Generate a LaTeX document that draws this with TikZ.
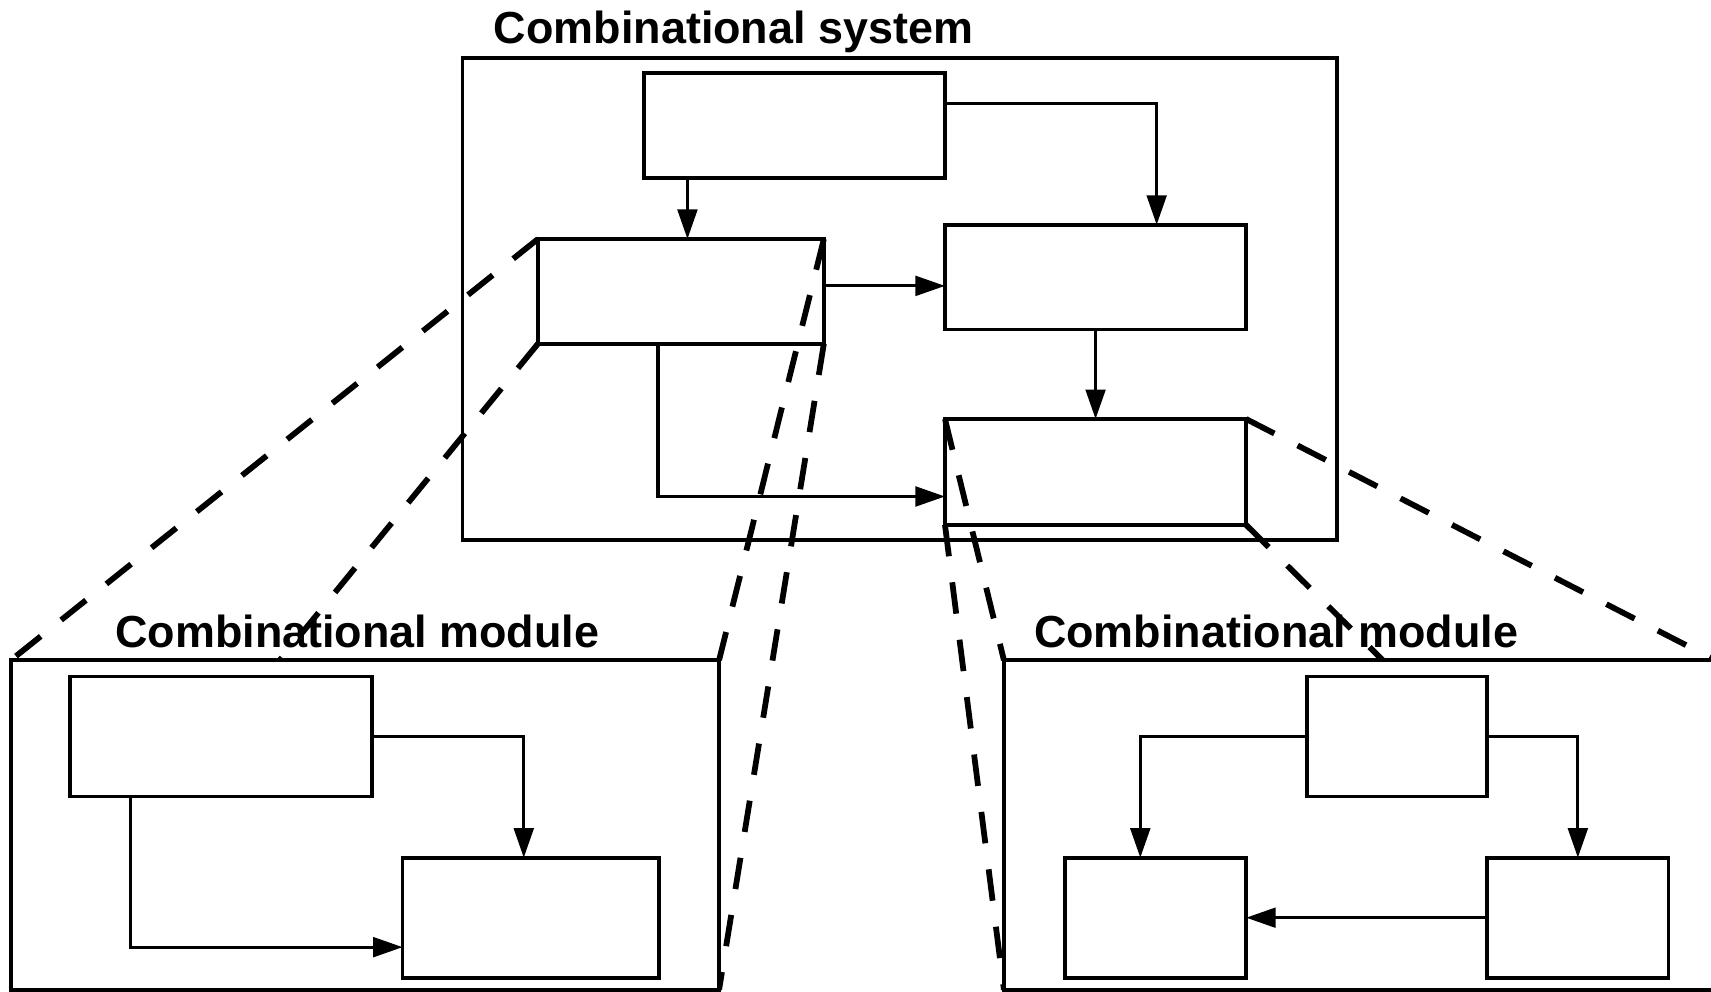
\documentclass[tikz,border=0pt]{standalone}
\usepackage{fontspec}
\setmainfont{Liberation Sans}
\usetikzlibrary{arrows.meta,fit,backgrounds}
\begin{document}
\begin{tikzpicture}[x=0.01cm,y=-0.01cm,
  box/.style={draw, line width=0.95pt, inner sep=0pt, outer sep=0pt},
  modbox/.style={draw, fill=white, line width=0.95pt, inner sep=0pt, outer sep=0pt},
  conn/.style={line width=0.8pt, -{Triangle[length=0.27cm,width=0.18cm]}},
  zoomline/.style={line width=1.5pt, dash pattern=on 0.29cm off 0.24cm},
  ttl/.style={font=\fontsize{11.7pt}{14pt}\selectfont\bfseries, inner sep=0pt, anchor=base west}]
\useasboundingbox (0,0) rectangle (1568,909);
\clip (0,0) rectangle (1568,909);

% ---- combinational system ----
\node[ttl] (tsys) at (452,40) {Combinational system};
\node[box, fit={(424,53) (1225,495)}] (S) {};
\node[box, fit={(590,67) (866,163)}] (A) {};
\node[box, fit={(493,219) (755,315)}] (B) {};
\node[box, fit={(866,206) (1142,302)}] (C) {};
\node[box, fit={(866,384) (1142,481)}] (D) {};

\coordinate (xab) at (630,0);
\coordinate (xac) at (1060,0);
\coordinate (yac) at (0,95);
\coordinate (ybc) at (0,262);
\coordinate (xcd) at (1004,0);
\coordinate (xbd) at (603,0);
\coordinate (ybd) at (0,455);

\draw[conn] (A.south -| xab) -- (B.north -| xab);
\draw[conn] (A.east |- yac) -- (xac |- yac) -- (xac |- C.north);
\draw[conn] (B.east |- ybc) -- (C.west |- ybc);
\draw[conn] (C.south -| xcd) -- (D.north -| xcd);
\draw[conn] (B.south -| xbd) -- (xbd |- ybd) -- (D.west |- ybd);

% ---- left module ----
\node[modbox, fit={(10,605) (659,907)}] (LM) {};
\node[ttl] (tlm) at (105,593) {Combinational module};
\node[box, fit={(64,620) (341,730)}] (LA) {};
\node[box, fit={(369,786) (604,896)}] (LB) {};
\coordinate (ylab) at (0,675);
\coordinate (xlab) at (480,0);
\coordinate (xlab2) at (120,0);
\coordinate (ylab2) at (0,868);
\draw[conn] (LA.east |- ylab) -- (xlab |- ylab) -- (xlab |- LB.north);
\draw[conn] (LA.south -| xlab2) -- (xlab2 |- ylab2) -- (LB.west |- ylab2);

% ---- right module ----
\node[modbox, fit={(920,605) (1572,907)}] (RM) {};
\node[ttl] (trm) at (947,593) {Combinational module};
\node[box, fit={(1198,620) (1363,730)}] (RA) {};
\node[box, fit={(976,786) (1142,896)}] (RB) {};
\node[box, fit={(1363,786) (1529,896)}] (RC) {};
\coordinate (yra) at (0,675);
\coordinate (xrb) at (1045,0);
\coordinate (xrc) at (1446,0);
\coordinate (yrcb) at (0,841);
\draw[conn] (RA.west |- yra) -- (xrb |- yra) -- (xrb |- RB.north);
\draw[conn] (RA.east |- yra) -- (xrc |- yra) -- (xrc |- RC.north);
\draw[conn] (RC.west |- yrcb) -- (RB.east |- yrcb);

% ---- zoom lines (behind module boxes) ----
\begin{scope}[on background layer]
\draw[zoomline] (B.north west) -- (LM.north west);
\draw[zoomline] (B.south west) -- (LM.south west);
\draw[zoomline] (B.north east) -- (LM.north east);
\draw[zoomline] (B.south east) -- (LM.south east);
\draw[zoomline] (D.north west) -- (RM.north west);
\draw[zoomline] (D.south west) -- (RM.south west);
\draw[zoomline] (D.north east) -- (RM.north east);
\draw[zoomline] (D.south east) -- (RM.south east);
\end{scope}
\end{tikzpicture}
\end{document}
